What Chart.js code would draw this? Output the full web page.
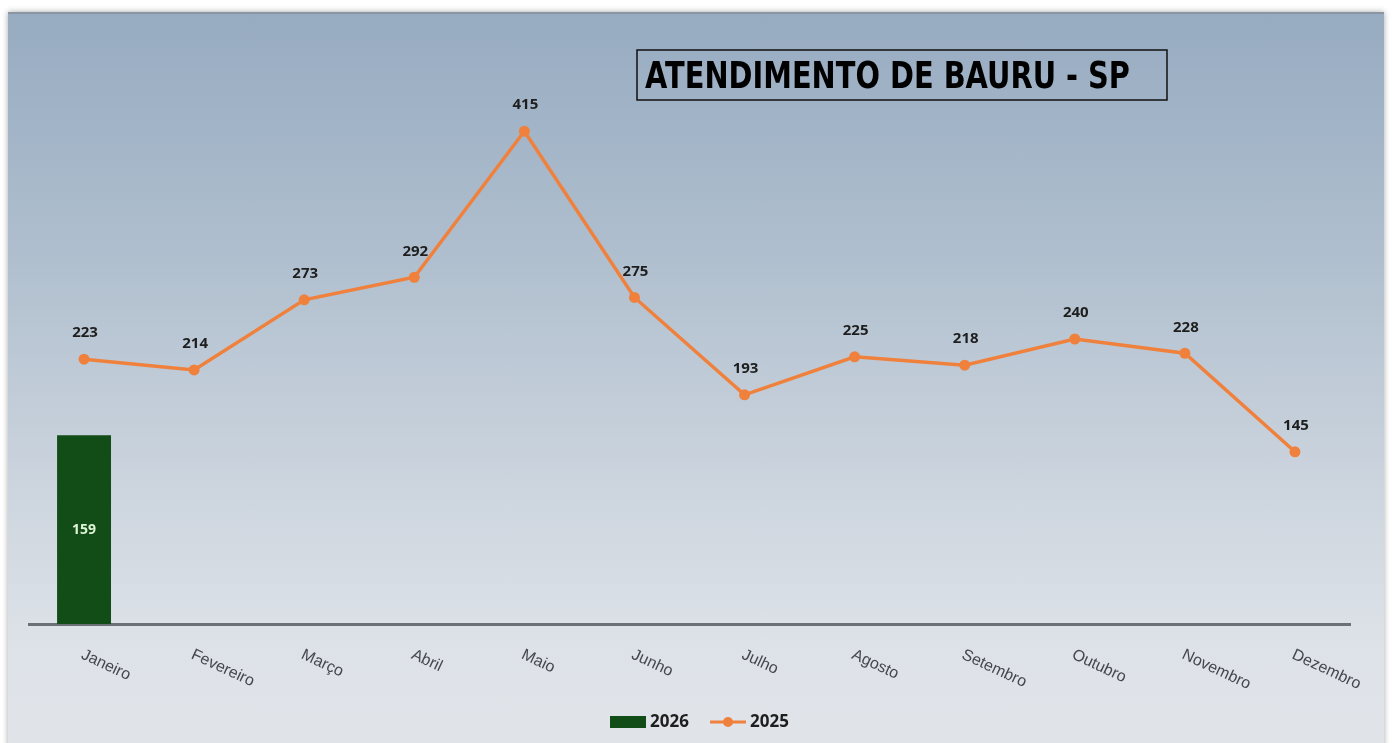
<!DOCTYPE html>
<html lang="pt-BR">
<head>
  <meta charset="UTF-8">
  <title>Atendimento de Bauru - SP</title>
  <style>
    html, body {
      margin: 0;
      background: #ffffff;
      width: 1395px;
      height: 743px;
      overflow: hidden;
    }
    .panel {
      position: absolute;
      left: 8px;
      top: 12px;
      width: 1376px;
      height: 740px;
      background: linear-gradient(to bottom, #97abc1 0%, #adbdcd 30%, #c9d2dc 60%, #dde2e8 85%, #e1e5ea 100%);
      border-top: 2px solid #8a96a3;
      box-shadow: 0 0 6px rgba(0,0,0,0.35);
    }
    canvas {
      display: block;
    }
  </style>
</head>
<body>

<div class="panel">
  <canvas id="chart" width="1376" height="731"></canvas>
</div>

<script src="https://cdn.jsdelivr.net/npm/chart.js"></script>
<script>
  // dados
  const meses = ['Janeiro', 'Fevereiro', 'Março', 'Abril', 'Maio', 'Junho',
                 'Julho', 'Agosto', 'Setembro', 'Outubro', 'Novembro', 'Dezembro'];
  const valores2026 = [159, null, null, null, null, null, null, null, null, null, null, null];
  const valores2025 = [223, 214, 273, 292, 415, 275, 193, 225, 218, 240, 228, 145];
  const titulo = 'ATENDIMENTO DE BAURU - SP';

  const verde = '#124d17';
  const laranja = '#f0813d';

  // rótulos, eixo x inclinado, título e legenda
  const extras = {
    id: 'extras',
    afterDatasetsDraw(chart) {
      const c = chart.ctx;
      const xs = chart.scales.x;

      // valores da linha
      const metaLinha = chart.getDatasetMeta(1);
      c.save();
      c.font = 'bold 15px "Open Sans", sans-serif';
      c.fillStyle = '#1e1e1e';
      c.textAlign = 'center';
      c.textBaseline = 'middle';
      metaLinha.data.forEach((p, i) => {
        c.fillText(String(valores2025[i]), p.x + 1, p.y - 26);
      });

      // valor dentro da barra
      const metaBarra = chart.getDatasetMeta(0);
      c.fillStyle = '#dff3d6';
      c.font = 'bold 14px "Open Sans", sans-serif';
      metaBarra.data.forEach((b, i) => {
        if (valores2026[i] == null) return;
        c.fillText(String(valores2026[i]), b.x, (b.y + b.base) / 2);
      });
      c.restore();

      // meses inclinados
      c.save();
      c.font = '16px "Liberation Sans", Arial, sans-serif';
      c.fillStyle = '#44474c';
      c.textAlign = 'left';
      c.textBaseline = 'middle';
      meses.forEach((m, i) => {
        const x = xs.getPixelForValue(i);
        c.save();
        c.translate(x - 2, xs.bottom + 22);
        c.rotate(25 * Math.PI / 180);
        c.fillText(m, 0, 0);
        c.restore();
      });
      c.restore();

      // título
      c.save();
      const bx = 629, by = 36, bw = 530, bh = 50;
      c.strokeStyle = '#111';
      c.lineWidth = 1.5;
      c.strokeRect(bx, by, bw, bh);
      c.font = 'bold 37px "DejaVu Sans", sans-serif';
      c.fillStyle = '#000';
      c.textBaseline = 'middle';
      const w = c.measureText(titulo).width;
      c.translate(bx + 8, by + bh / 2 + 3);
      c.scale(485 / w, 1);
      c.fillText(titulo, 0, 0);
      c.restore();

      // legenda
      c.save();
      const ly = 708;
      c.fillStyle = verde;
      c.fillRect(602, ly - 6, 36, 12);
      c.font = 'bold 17px "Open Sans", sans-serif';
      c.fillStyle = '#1e1e1e';
      c.textBaseline = 'middle';
      c.fillText('2026', 642, ly);
      c.strokeStyle = laranja;
      c.lineWidth = 3;
      c.beginPath();
      c.moveTo(702, ly);
      c.lineTo(738, ly);
      c.stroke();
      c.fillStyle = laranja;
      c.beginPath();
      c.arc(720, ly, 5, 0, Math.PI * 2);
      c.fill();
      c.fillStyle = '#1e1e1e';
      c.fillText('2025', 742, ly);
      c.restore();
    }
  };

  new Chart(document.getElementById('chart'), {
    data: {
      labels: meses,
      datasets: [
        {
          type: 'bar',
          label: '2026',
          data: valores2026,
          backgroundColor: verde,
          barPercentage: 0.49,
          categoryPercentage: 1,
          order: 2
        },
        {
          type: 'line',
          label: '2025',
          data: valores2025,
          borderColor: laranja,
          backgroundColor: laranja,
          borderWidth: 3.5,
          pointRadius: 5.5,
          pointBackgroundColor: laranja,
          pointBorderWidth: 0,
          tension: 0,
          order: 1
        }
      ]
    },
    options: {
      responsive: false,
      animation: false,
      layout: {
        padding: { left: 21, right: 34, top: 40, bottom: 113 }
      },
      plugins: {
        legend: { display: false },
        tooltip: { enabled: false }
      },
      scales: {
        x: {
          ticks: { display: false },
          grid: { display: false },
          border: { display: true, color: '#6b7077', width: 3 }
        },
        y: {
          display: false,
          min: 0,
          max: 480
        }
      }
    },
    plugins: [extras]
  });
</script>

</body>
</html>
